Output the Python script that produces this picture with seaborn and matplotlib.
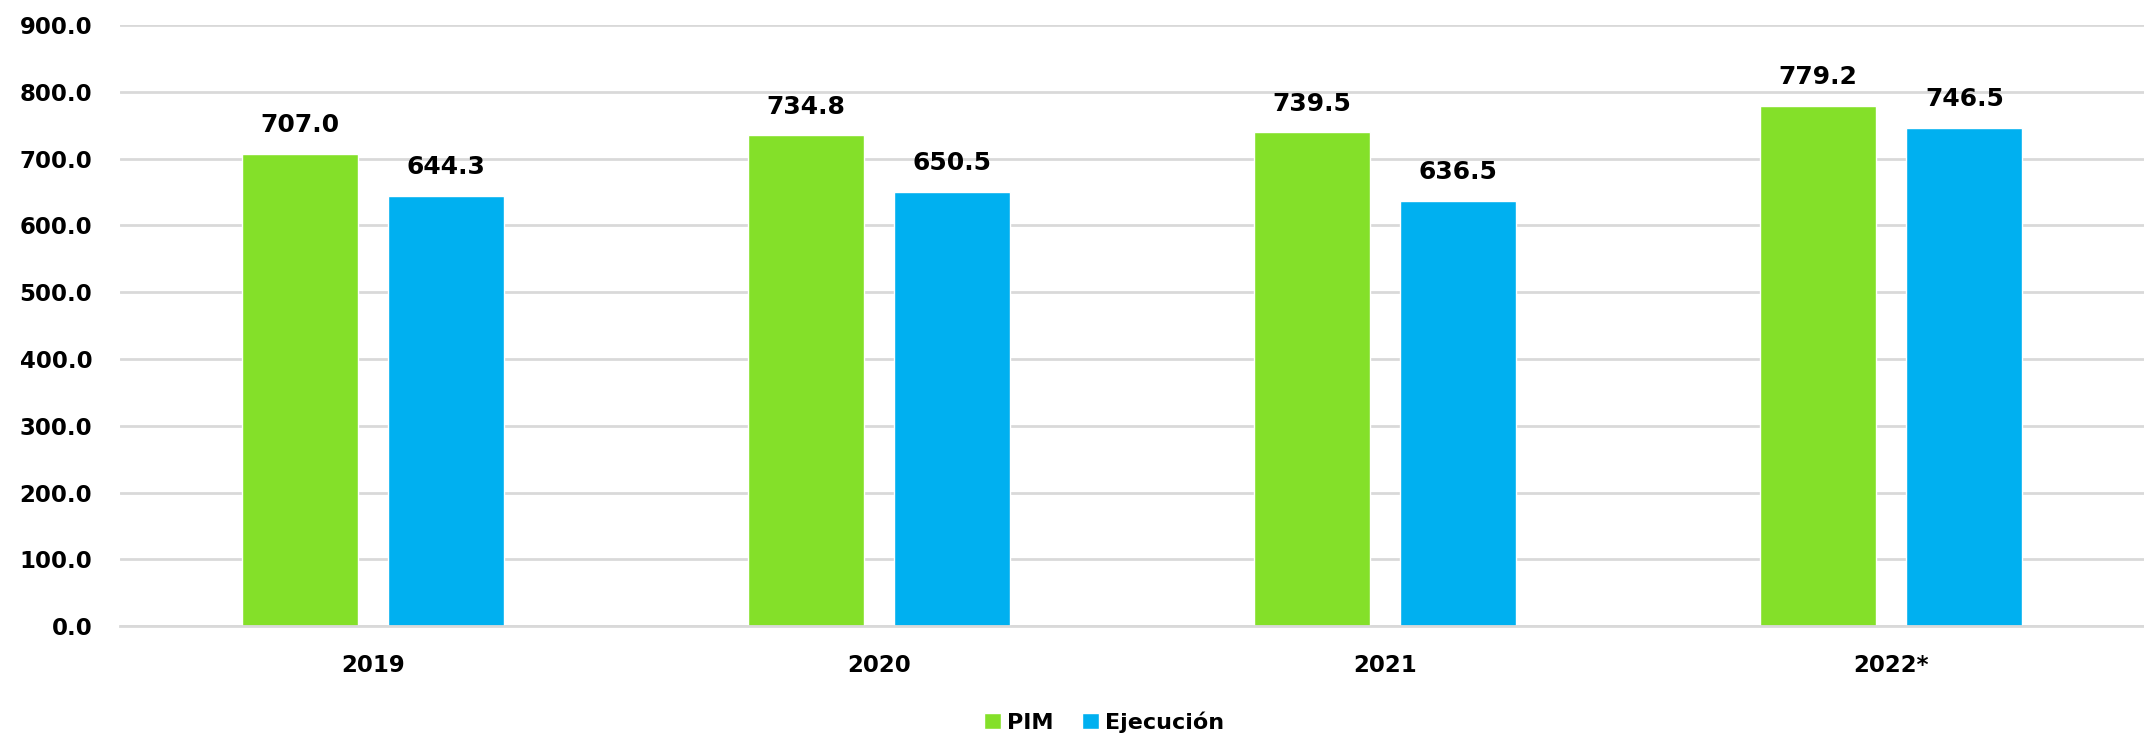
import pandas as pd
import matplotlib
matplotlib.use("Agg")
import matplotlib.pyplot as plt
import seaborn as sns

# datos
years = ["2019", "2020", "2021", "2022*"]
pim = [707.0, 734.8, 739.5, 779.2]
ejecucion = [644.3, 650.5, 636.5, 746.5]
series = ["PIM", "Ejecución"]
colors = ["#84E029", "#00B0F0"]

df = pd.DataFrame({
    "year": years * 2,
    "value": pim + ejecucion,
    "serie": [series[0]] * len(years) + [series[1]] * len(years),
})

sns.set_style("white")
plt.rcParams["font.family"] = ["DejaVu Sans"]
plt.rcParams["text.color"] = "black"
plt.rcParams["xtick.color"] = "black"
plt.rcParams["ytick.color"] = "black"

fig = plt.figure(figsize=(21.44, 7.35), dpi=100)
ax = fig.add_axes([0.056, 0.148, 0.944, 0.818])

sns.barplot(data=df, x="year", y="value", hue="serie", palette=colors,
            width=0.58, gap=0.21, saturation=1, ax=ax, legend=True)

for cont in ax.containers:
    ax.bar_label(cont, fmt="%.1f", padding=12, fontsize=18, fontweight="bold", color="black")

ax.set_ylim(0, 900)
ax.set_yticks(range(0, 901, 100))
ax.set_yticklabels([f"{v:.1f}" for v in range(0, 901, 100)], fontsize=16.5, fontweight="bold")
for lab in ax.get_xticklabels():
    lab.set_fontsize(16.5)
    lab.set_fontweight("bold")
ax.set_xlim(-0.5, 3.5)
ax.set_xlabel("")
ax.set_ylabel("")
ax.yaxis.grid(True, color="#d9d9d9", linewidth=2)
ax.set_axisbelow(True)
ax.tick_params(axis="y", length=0, pad=20)
ax.tick_params(axis="x", length=0, pad=20)
for s in ["top", "right", "left"]:
    ax.spines[s].set_visible(False)
ax.spines["bottom"].set_color("#d9d9d9")
ax.spines["bottom"].set_linewidth(2)

handles, labels = ax.get_legend_handles_labels()
ax.get_legend().remove()
fig.legend(handles, labels, loc="center", bbox_to_anchor=(0.515, 0.018),
           ncol=2, frameon=False, handlelength=0.76, handleheight=0.76,
           handletextpad=0.3, columnspacing=1.25,
           prop={"size": 16, "weight": "bold"})

fig.savefig("out.png", dpi=100)
